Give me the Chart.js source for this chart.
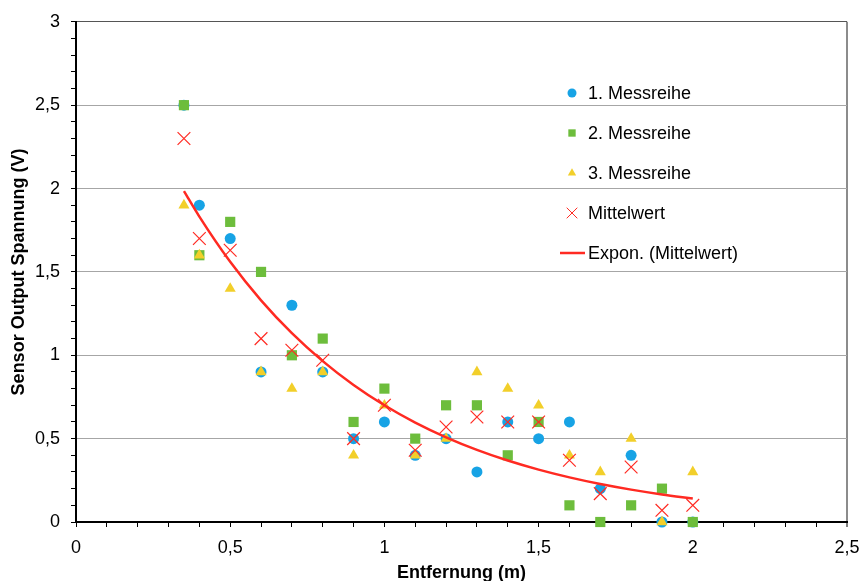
<!DOCTYPE html>
<html>
<head>
<meta charset="utf-8">
<script src="https://cdn.jsdelivr.net/npm/chart.js@4.4.1/dist/chart.umd.min.js"></script>
<style>
  html, body { margin: 0; padding: 0; background: #ffffff; }
  #wrap { width: 862px; height: 581px; }
</style>
</head>
<body>
<div id="wrap"><canvas id="c" width="862" height="581"></canvas></div>
<script>
// ---- Data ----
const distances   = [0.35, 0.4, 0.5, 0.6, 0.7, 0.8, 0.9, 1.0, 1.1, 1.2, 1.3, 1.4, 1.5, 1.6, 1.7, 1.8, 1.9, 2.0];
const messreihe1  = [2.5, 1.9, 1.7, 0.9, 1.3, 0.9, 0.5, 0.6, 0.4, 0.5, 0.3, 0.6, 0.5, 0.6, 0.2, 0.4, 0.0, 0.0];
const messreihe2  = [2.5, 1.6, 1.8, 1.5, 1.0, 1.1, 0.6, 0.8, 0.5, 0.7, 0.7, 0.4, 0.6, 0.1, 0.0, 0.1, 0.2, 0.0];
const messreihe3  = [1.9, 1.6, 1.4, 0.9, 0.8, 0.9, 0.4, 0.7, 0.4, 0.5, 0.9, 0.8, 0.7, 0.4, 0.3, 0.5, 0.0, 0.3];
const mittelwert  = [2.3, 1.7, 1.63, 1.1, 1.03, 0.97, 0.5, 0.7, 0.43, 0.57, 0.63, 0.6, 0.6, 0.37, 0.17, 0.33, 0.07, 0.1];
const seriesNames = ['1. Messreihe', '2. Messreihe', '3. Messreihe', 'Mittelwert', 'Expon. (Mittelwert)'];
const xTickValues = [0, 0.5, 1, 1.5, 2, 2.5];
const xTickLabels = ['0', '0,5', '1', '1,5', '2', '2,5'];
const yTickValues = [0, 0.5, 1, 1.5, 2, 2.5, 3];
const yTickLabels = ['0', '0,5', '1', '1,5', '2', '2,5', '3'];
const xTitle = 'Entfernung (m)';
const yTitle = 'Sensor Output Spannung (V)';

// ---- Styles ----
const BLUE = '#17a3e5';
const GREEN = '#6dbd3c';
const YELLOW = '#f2cf2a';
const RED = '#ff2a22';
const FONT = '"Liberation Sans", Arial, sans-serif';

// Exponential trendline (least squares on ln(y), as a spreadsheet trendline does)
function expFit(xs, ys) {
  const n = xs.length;
  let sx = 0, sy = 0, sxx = 0, sxy = 0;
  for (let i = 0; i < n; i++) {
    const ly = Math.log(ys[i]);
    sx += xs[i]; sy += ly; sxx += xs[i] * xs[i]; sxy += xs[i] * ly;
  }
  const b = (n * sxy - sx * sy) / (n * sxx - sx * sx);
  const lnA = (sy - b * sx) / n;
  return { a: Math.exp(lnA), b };
}
const fit = expFit(distances, mittelwert);
const trendPoints = distances.map(x => ({ x, y: fit.a * Math.exp(fit.b * x) }));

const toPts = arr => distances.map((x, i) => ({ x, y: arr[i] }));
const near = (v, list) => list.findIndex(t => Math.abs(t - v) < 1e-6);

const legendItems = [
  { text: seriesNames[0], style: 'circle', color: BLUE, r: 4.5 },
  { text: seriesNames[1], style: 'rect', color: GREEN, r: 5.2 },
  { text: seriesNames[2], style: 'triangle', color: YELLOW, r: 4.8 },
  { text: seriesNames[3], style: 'crossRot', color: RED, r: 7.5 },
  { text: seriesNames[4], style: 'line', color: RED, r: 0 }
];

const insideLegend = {
  id: 'insideLegend',
  afterDraw(chart) {
    const ctx = chart.ctx;
    const mx = 572, tx = 588, y0 = 93, dy = 40;
    ctx.save();
    ctx.font = '18px ' + FONT;
    ctx.textBaseline = 'middle';
    ctx.textAlign = 'left';
    legendItems.forEach((it, i) => {
      const y = y0 + i * dy;
      if (it.style === 'line') {
        ctx.strokeStyle = it.color;
        ctx.lineWidth = 2.5;
        ctx.beginPath();
        ctx.moveTo(560, y);
        ctx.lineTo(585, y);
        ctx.stroke();
      } else {
        ctx.fillStyle = it.color;
        ctx.strokeStyle = it.color;
        ctx.lineWidth = 1;
        Chart.helpers.drawPoint(ctx, {
          pointStyle: it.style, radius: it.r, rotation: 0,
          borderWidth: it.style === 'crossRot' ? 1 : 0
        }, mx, y);
      }
      ctx.fillStyle = '#000';
      ctx.fillText(it.text, tx, y + 1);
    });
    ctx.restore();
  }
};

new Chart(document.getElementById('c'), {
  type: 'scatter',
  data: {
    datasets: [
      { label: seriesNames[0], data: toPts(messreihe1), order: 4, clip: false,
        pointStyle: 'circle', pointRadius: 5.5, pointBackgroundColor: BLUE, pointBorderWidth: 0, showLine: false },
      { label: seriesNames[1], data: toPts(messreihe2), order: 3, clip: false,
        pointStyle: 'rect', pointRadius: 7.2, pointBackgroundColor: GREEN, pointBorderWidth: 0, showLine: false },
      { label: seriesNames[2], data: toPts(messreihe3), order: 2, clip: false,
        pointStyle: 'triangle', pointRadius: 6.4, pointBackgroundColor: YELLOW, pointBorderWidth: 0, showLine: false },
      { label: seriesNames[3], data: toPts(mittelwert), order: 1, clip: false,
        pointStyle: 'crossRot', pointRadius: 9, pointBorderColor: RED, pointBackgroundColor: RED, pointBorderWidth: 1.2, showLine: false },
      { label: seriesNames[4], data: trendPoints, order: 0,
        showLine: true, borderColor: RED, borderWidth: 2.5, pointRadius: 0,
        cubicInterpolationMode: 'monotone', fill: false }
    ]
  },
  options: {
    responsive: false,
    animation: false,
    devicePixelRatio: 1,
    layout: { padding: { top: 19, right: 15, left: 0, bottom: 0 } },
    plugins: { legend: { display: false }, tooltip: { enabled: false } },
    scales: {
      x: {
        type: 'linear', min: 0, max: 2.5,
        afterFit: s => { s.height = 59; s.paddingRight = 15; s.paddingLeft = 0; },
        ticks: {
          stepSize: 0.1, maxTicksLimit: 1000, autoSkip: false, maxRotation: 0,
          color: '#000', font: { family: FONT, size: 18 }, padding: 10,
          callback: v => { const k = near(v, xTickValues); return k >= 0 ? xTickLabels[k] : ''; }
        },
        grid: {
          drawOnChartArea: true, drawTicks: true, tickLength: 5, tickColor: '#000', tickWidth: 1,
          color: ctx => (ctx.tick && Math.abs(ctx.tick.value - 2.5) < 1e-6) ? '#8c8c8c' : 'rgba(0,0,0,0)',
          lineWidth: ctx => (ctx.tick && Math.abs(ctx.tick.value - 2.5) < 1e-6) ? 2 : 1
        },
        border: { display: true, color: '#000', width: 2 },
        title: { display: true, text: xTitle, color: '#000', font: { family: FONT, size: 18, weight: 'bold' }, padding: { top: 0, bottom: -3 } }
      },
      y: {
        type: 'linear', min: 0, max: 3,
        afterFit: s => { s.width = 76; },
        ticks: {
          stepSize: 0.1, maxTicksLimit: 1000, autoSkip: false,
          color: '#000', font: { family: FONT, size: 18 }, padding: 11,
          callback: v => { const k = near(v, yTickValues); return k >= 0 ? yTickLabels[k] : ''; }
        },
        grid: {
          drawOnChartArea: true, drawTicks: true, tickLength: 5, tickColor: '#000', tickWidth: 1,
          color: ctx => {
            if (!ctx.tick) return 'rgba(0,0,0,0)';
            const v = ctx.tick.value;
            if (Math.abs(v - 3) < 1e-6) return '#555555';
            return near(v, yTickValues) >= 0 ? '#a6a6a6' : 'rgba(0,0,0,0)';
          },
          lineWidth: 1
        },
        border: { display: true, color: '#000', width: 2 },
        title: { display: true, text: yTitle, color: '#000', font: { family: FONT, size: 18, weight: 'bold' }, padding: { top: 8, bottom: 0 } }
      }
    }
  },
  plugins: [insideLegend]
});
</script>
</body>
</html>
